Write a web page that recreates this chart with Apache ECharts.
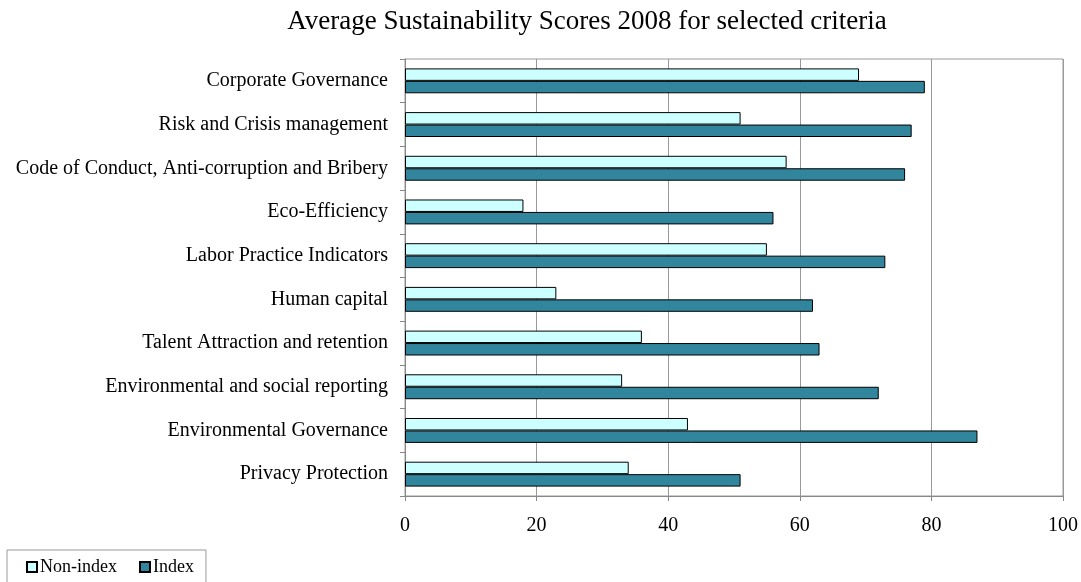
<!DOCTYPE html>
<html>
<head>
<meta charset="utf-8">
<script src="https://cdn.jsdelivr.net/npm/echarts@6/dist/echarts.min.js"></script>
<style>
  html, body { margin: 0; padding: 0; background: #fff; }
  #chart { width: 1081px; height: 582px; }
</style>
</head>
<body>
<div id="chart"></div>
<script>
const categories = [
  'Corporate Governance',
  'Risk and Crisis management',
  'Code of Conduct, Anti-corruption and Bribery',
  'Eco-Efficiency',
  'Labor Practice Indicators',
  'Human capital',
  'Talent Attraction and retention',
  'Environmental and social reporting',
  'Environmental Governance',
  'Privacy Protection'
];
const nonIndex = [69, 51, 58, 18, 55, 23, 36, 33, 43, 34];
const indexScores = [79, 77, 76, 56, 73, 62, 63, 72, 87, 51];
const xTicks = [0, 20, 40, 60, 80, 100];

const FONT = '"Liberation Serif", "Times New Roman", serif';
const chart = echarts.init(document.getElementById('chart'));

chart.setOption({
  animation: false,
  backgroundColor: '#ffffff',
  title: {
    text: 'Average Sustainability Scores 2008 for selected criteria',
    left: 582,
    textAlign: 'center',
    top: 3,
    textStyle: { fontFamily: FONT, fontSize: 27, fontWeight: 'normal', color: '#000' }
  },
  legend: {
    left: 7,
    top: 550,
    orient: 'horizontal',
    icon: 'rect',
    itemWidth: 10,
    itemHeight: 10,
    itemGap: 22,
    padding: [8, 12, 20, 19],
    borderColor: '#999',
    borderWidth: 1,
    textStyle: { fontFamily: FONT, fontSize: 18, color: '#000', padding: [0, 0, 0, -2] },
    data: ['Non-index', 'Index']
  },
  grid: {
    left: 405,
    right: 18,
    top: 59,
    bottom: 86,
    show: true,
    borderColor: '#999',
    borderWidth: 1
  },
  xAxis: {
    type: 'value',
    min: xTicks[0],
    max: xTicks[xTicks.length - 1],
    interval: 20,
    axisLine: { show: true, lineStyle: { color: '#888' } },
    axisTick: { show: true, length: 5, lineStyle: { color: '#888' } },
    splitLine: { show: true, lineStyle: { color: '#999', width: 1 } },
    axisLabel: { fontFamily: FONT, fontSize: 20, color: '#000', margin: 20 }
  },
  yAxis: {
    type: 'category',
    inverse: true,
    data: categories,
    axisLine: { show: true, lineStyle: { color: '#888' } },
    axisTick: { show: true, length: 5, inside: false, lineStyle: { color: '#888' } },
    axisLabel: { fontFamily: FONT, fontSize: 20, color: '#000', margin: 17 }
  },
  series: [
    {
      name: 'Non-index',
      type: 'bar',
      data: nonIndex,
      barGap: '0%',
      barCategoryGap: '43%',
      itemStyle: { color: '#CCFFFF', borderColor: '#000', borderWidth: 1 }
    },
    {
      name: 'Index',
      type: 'bar',
      data: indexScores,
      itemStyle: { color: '#31859C', borderColor: '#000', borderWidth: 1 }
    }
  ]
});
</script>
</body>
</html>
